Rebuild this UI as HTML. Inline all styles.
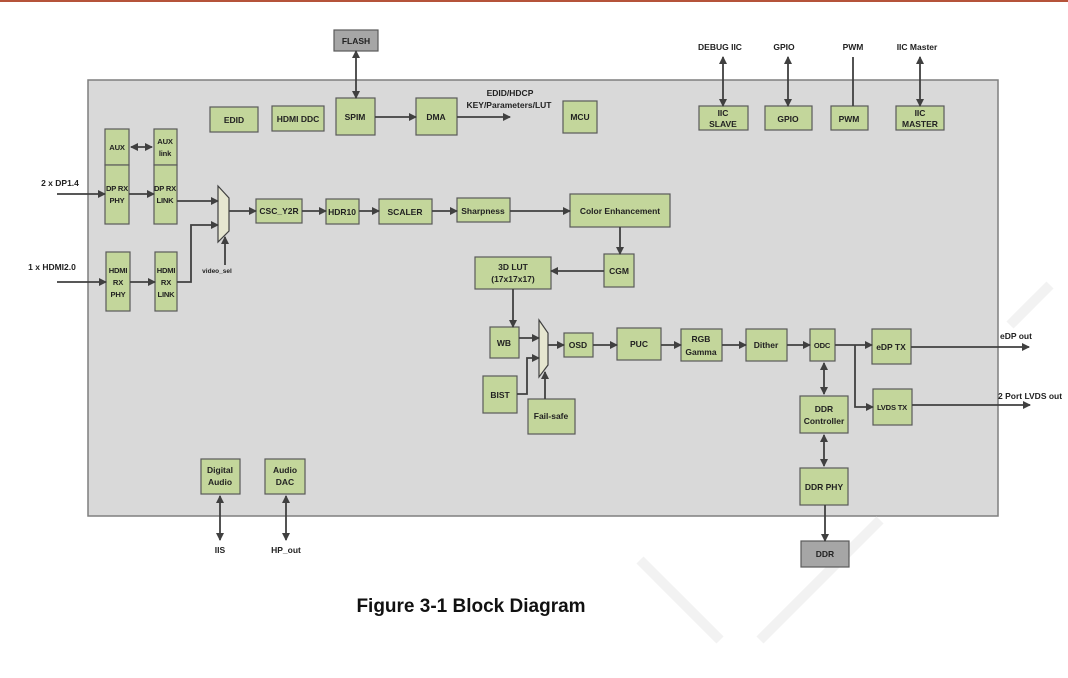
<!DOCTYPE html>
<html><head><meta charset="utf-8"><style>
html,body{margin:0;padding:0;background:#fff}
svg{display:block}
text{font-family:"Liberation Sans",sans-serif;font-weight:bold;font-size:8.5px;fill:#222;text-anchor:middle}
.n{font-size:7.6px;letter-spacing:-0.2px}
.g{fill:#c3d69b;stroke:#5a5a5a;stroke-width:1.2}
.gr{fill:#a6a6a6;stroke:#5a5a5a;stroke-width:1.2}
.l{stroke:#404040;stroke-width:1.8;fill:none}
</style></head><body>
<svg width="1068" height="678" viewBox="0 0 1068 678" xmlns="http://www.w3.org/2000/svg">
<defs>
<marker id="a" markerWidth="8" markerHeight="8" refX="7" refY="4" orient="auto" markerUnits="userSpaceOnUse"><path d="M0,0 L8,4 L0,8 Z" fill="#404040"/></marker>
<marker id="s" markerWidth="8" markerHeight="8" refX="1" refY="4" orient="auto" markerUnits="userSpaceOnUse"><path d="M8,0 L0,4 L8,8 Z" fill="#404040"/></marker>
</defs>
<rect x="0" y="0" width="1068" height="2" fill="#b5533a"/>
<rect x="88" y="80" width="910" height="436" fill="#d9d9d9" stroke="#7f7f7f" stroke-width="1.5"/>
<g fill="none" stroke="#f2f2f2" stroke-width="10">
<path d="M1050,285 L1010,325"/>
<path d="M880,520 L760,640"/>
<path d="M720,640 L640,560"/>
</g>
<rect class="gr" x="334" y="30" width="44" height="21"/><text x="356" y="44">FLASH</text>
<rect class="g" x="210" y="107" width="48" height="25"/><text x="234" y="123">EDID</text>
<rect class="g" x="272" y="106" width="52" height="25"/><text x="298" y="122">HDMI DDC</text>
<rect class="g" x="336" y="98" width="39" height="37"/><text x="355" y="120">SPIM</text>
<rect class="g" x="416" y="98" width="41" height="37"/><text x="436" y="120">DMA</text>
<text x="510" y="96">EDID/HDCP</text><text x="509" y="108">KEY/Parameters/LUT</text>
<rect class="g" x="563" y="101" width="34" height="32"/><text x="580" y="120">MCU</text>
<rect class="g" x="105" y="129" width="24" height="36"/><text class="n" x="117" y="150">AUX</text>
<rect class="g" x="105" y="165" width="24" height="59"/><text class="n" x="117" y="191">DP RX</text><text class="n" x="117" y="203">PHY</text>
<rect class="g" x="154" y="129" width="23" height="36"/><text class="n" x="165" y="144">AUX</text><text class="n" x="165" y="156">link</text>
<rect class="g" x="154" y="165" width="23" height="59"/><text class="n" x="165" y="191">DP RX</text><text class="n" x="165" y="203">LINK</text>
<rect class="g" x="106" y="252" width="24" height="59"/><text class="n" x="118" y="273">HDMI</text><text class="n" x="118" y="285">RX</text><text class="n" x="118" y="297">PHY</text>
<rect class="g" x="155" y="252" width="22" height="59"/><text class="n" x="166" y="273">HDMI</text><text class="n" x="166" y="285">RX</text><text class="n" x="166" y="297">LINK</text>
<path d="M218,186 L229,198 L229,231 L218,242 Z" fill="#e6e6d0" stroke="#404040" stroke-width="1.2"/>
<text x="217" y="273" style="font-size:6.5px">video_sel</text>
<rect class="g" x="256" y="199" width="46" height="24"/><text x="279" y="214">CSC_Y2R</text>
<rect class="g" x="326" y="199" width="33" height="25"/><text x="342" y="215">HDR10</text>
<rect class="g" x="379" y="199" width="53" height="25"/><text x="405" y="215">SCALER</text>
<rect class="g" x="457" y="198" width="53" height="24"/><text x="483" y="214">Sharpness</text>
<rect class="g" x="570" y="194" width="100" height="33"/><text x="620" y="214">Color Enhancement</text>
<rect class="g" x="604" y="254" width="30" height="33"/><text x="619" y="274">CGM</text>
<rect class="g" x="475" y="257" width="76" height="32"/><text x="513" y="270">3D LUT</text><text x="513" y="282">(17x17x17)</text>
<rect class="g" x="490" y="327" width="29" height="31"/><text x="504" y="346">WB</text>
<path d="M539,320 L548,333 L548,365 L539,377 Z" fill="#e6e6d0" stroke="#404040" stroke-width="1.2"/>
<rect class="g" x="483" y="376" width="34" height="37"/><text x="500" y="398">BIST</text>
<rect class="g" x="528" y="399" width="47" height="35"/><text x="551" y="419">Fail-safe</text>
<rect class="g" x="564" y="333" width="29" height="24"/><text x="578" y="348">OSD</text>
<rect class="g" x="617" y="328" width="44" height="32"/><text x="639" y="347">PUC</text>
<rect class="g" x="681" y="329" width="41" height="32"/><text x="701" y="342">RGB</text><text x="701" y="355">Gamma</text>
<rect class="g" x="746" y="329" width="41" height="32"/><text x="766" y="348">Dither</text>
<rect class="g" x="810" y="329" width="25" height="32"/><text class="n" x="822" y="348">ODC</text>
<rect class="g" x="872" y="329" width="39" height="35"/><text x="891" y="350">eDP TX</text>
<rect class="g" x="873" y="389" width="39" height="36"/><text class="n" x="892" y="410">LVDS TX</text>
<rect class="g" x="800" y="396" width="48" height="37"/><text x="824" y="412">DDR</text><text x="824" y="424">Controller</text>
<rect class="g" x="800" y="468" width="48" height="37"/><text x="824" y="490">DDR PHY</text>
<rect class="gr" x="801" y="541" width="48" height="26"/><text x="825" y="557">DDR</text>
<rect class="g" x="699" y="106" width="49" height="24"/><text x="723" y="116">IIC</text><text x="723" y="127">SLAVE</text>
<rect class="g" x="765" y="106" width="47" height="24"/><text x="788" y="122">GPIO</text>
<rect class="g" x="831" y="106" width="37" height="24"/><text x="849" y="122">PWM</text>
<rect class="g" x="896" y="106" width="48" height="24"/><text x="920" y="116">IIC</text><text x="920" y="127">MASTER</text>
<rect class="g" x="201" y="459" width="39" height="35"/><text x="220" y="473">Digital</text><text x="220" y="485">Audio</text>
<rect class="g" x="265" y="459" width="40" height="35"/><text x="285" y="473">Audio</text><text x="285" y="485">DAC</text>
<text x="720" y="50">DEBUG IIC</text><text x="784" y="50">GPIO</text><text x="853" y="50">PWM</text><text x="917" y="50">IIC Master</text>
<text x="60" y="186">2 x DP1.4</text><text x="52" y="270">1 x HDMI2.0</text>
<text x="1000" y="339" style="text-anchor:start">eDP out</text><text x="998" y="399" style="text-anchor:start">2 Port LVDS out</text>
<text x="220" y="553">IIS</text><text x="286" y="553">HP_out</text>
<g class="l">
<path d="M356,51 L356,98" marker-start="url(#s)" marker-end="url(#a)"/>
<path d="M375,117 L416,117" marker-end="url(#a)"/>
<path d="M457,117 L510,117" marker-end="url(#a)"/>
<path d="M131,147 L152,147" marker-start="url(#s)" marker-end="url(#a)"/>
<path d="M57,194 L105,194" marker-end="url(#a)"/>
<path d="M129,194 L154,194" marker-end="url(#a)"/>
<path d="M177,201 L218,201" marker-end="url(#a)"/>
<path d="M57,282 L106,282" marker-end="url(#a)"/>
<path d="M130,282 L155,282" marker-end="url(#a)"/>
<path d="M177,282 L191,282 L191,225 L218,225" marker-end="url(#a)"/>
<path d="M225,265 L225,237" marker-end="url(#a)"/>
<path d="M229,211 L256,211" marker-end="url(#a)"/>
<path d="M302,211 L326,211" marker-end="url(#a)"/>
<path d="M359,211 L379,211" marker-end="url(#a)"/>
<path d="M432,211 L457,211" marker-end="url(#a)"/>
<path d="M510,211 L570,211" marker-end="url(#a)"/>
<path d="M620,227 L620,254" marker-end="url(#a)"/>
<path d="M604,271 L551,271" marker-end="url(#a)"/>
<path d="M513,289 L513,327" marker-end="url(#a)"/>
<path d="M519,338 L539,338" marker-end="url(#a)"/>
<path d="M517,394 L527,394 L527,358 L539,358" marker-end="url(#a)"/>
<path d="M545,399 L545,372" marker-end="url(#a)"/>
<path d="M548,345 L564,345" marker-end="url(#a)"/>
<path d="M593,345 L617,345" marker-end="url(#a)"/>
<path d="M661,345 L681,345" marker-end="url(#a)"/>
<path d="M722,345 L746,345" marker-end="url(#a)"/>
<path d="M787,345 L810,345" marker-end="url(#a)"/>
<path d="M835,345 L872,345" marker-end="url(#a)"/>
<path d="M855,345 L855,407 L873,407" marker-end="url(#a)"/>
<path d="M911,347 L1029,347" marker-end="url(#a)"/>
<path d="M912,405 L1030,405" marker-end="url(#a)"/>
<path d="M824,363 L824,394" marker-start="url(#s)" marker-end="url(#a)"/>
<path d="M824,435 L824,466" marker-start="url(#s)" marker-end="url(#a)"/>
<path d="M825,505 L825,541" marker-end="url(#a)"/>
<path d="M723,57 L723,106" marker-start="url(#s)" marker-end="url(#a)"/>
<path d="M788,57 L788,106" marker-start="url(#s)" marker-end="url(#a)"/>
<path d="M853,57 L853,106"/>
<path d="M920,57 L920,106" marker-start="url(#s)" marker-end="url(#a)"/>
<path d="M220,496 L220,540" marker-start="url(#s)" marker-end="url(#a)"/>
<path d="M286,496 L286,540" marker-start="url(#s)" marker-end="url(#a)"/>
</g>
<text x="471" y="612" style="font-size:19px;fill:#111">Figure 3-1 Block Diagram</text>
</svg>
</body></html>
